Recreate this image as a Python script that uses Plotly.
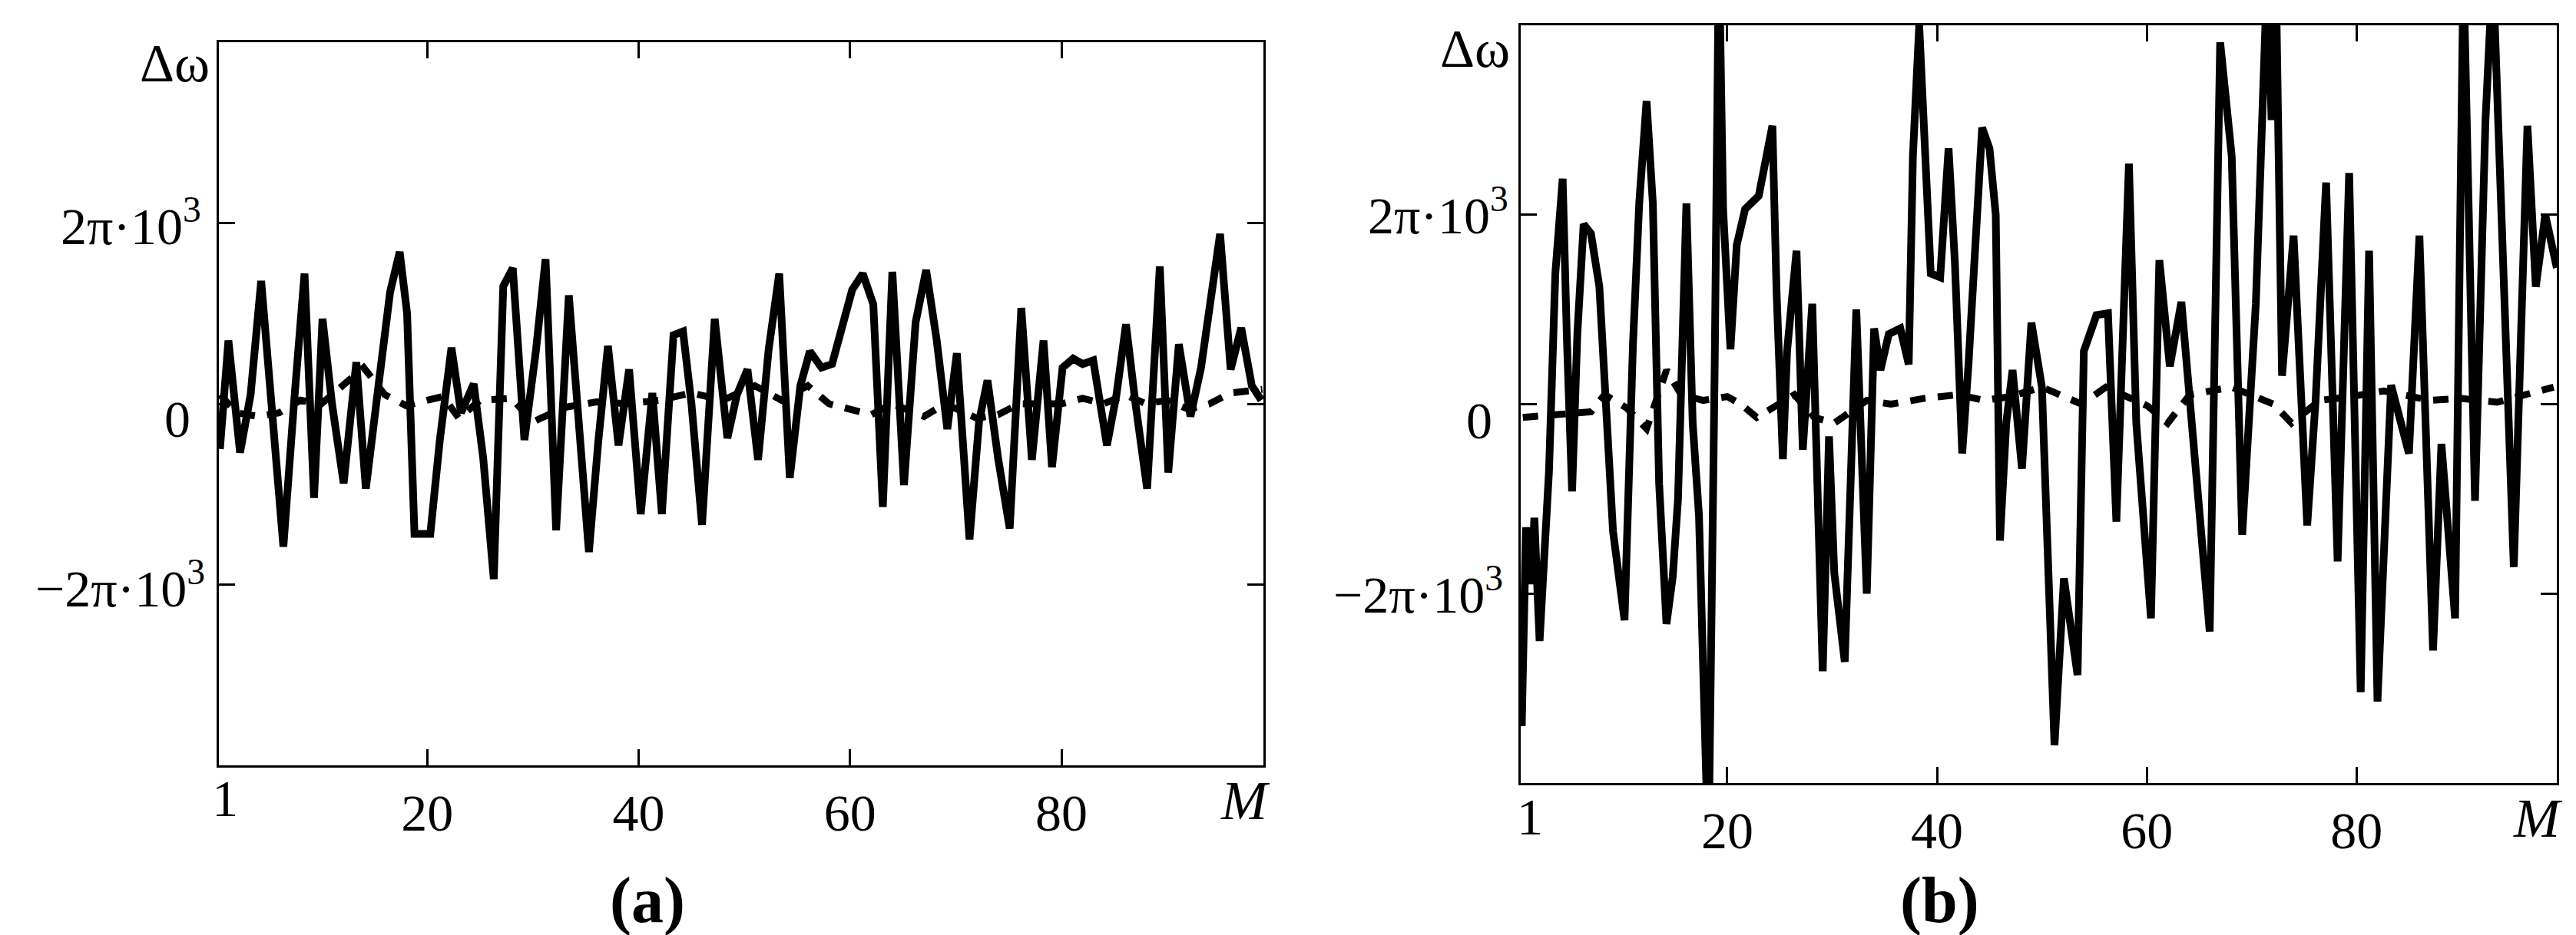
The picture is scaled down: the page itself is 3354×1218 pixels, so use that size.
import plotly.graph_objects as go

# frequency deviation, in units of 2π·10^3 rad/s, against sample number M
# (a) solid and dashed curves
m_a = [0.4, 1.2, 2.3, 3.3, 4.3, 5.2, 6.4, 7.4, 8.4, 9.3, 10.1, 11.0, 12.1, 13.3, 14.2,
       15.5, 16.5, 17.4, 18.1, 18.8, 20.3, 21.2, 22.3, 23.2, 24.4, 25.3, 26.3, 27.2,
       28.1, 29.2, 30.3, 31.2, 32.2, 33.4, 34.2, 35.3, 36.2, 37.1, 38.1, 39.1, 40.2,
       41.3, 42.2, 43.3, 44.2, 45.0, 46.0, 47.2, 48.4, 49.3, 50.3, 51.3, 52.3, 53.3,
       54.3, 55.3, 56.2, 57.3, 58.3, 59.3, 60.2, 61.2, 62.2, 63.1, 64.0, 65.1, 66.2,
       67.2, 68.2, 69.2, 70.1, 71.3, 72.2, 73.0, 74.0, 75.1, 76.2, 77.2, 78.3, 79.1,
       80.1, 81.1, 82.0, 83.0, 84.3, 85.2, 86.1, 87.0, 88.1, 89.3, 90.1, 91.1, 92.2,
       93.2, 94.0, 95.0, 96.0, 97.0, 98.0, 98.9]
dw_a = [-0.25, 0.35, -0.27, 0.05, 0.68, 0.0, -0.79, 0.0, 0.72, -0.52, 0.47, 0.0, -0.44,
        0.23, -0.47, 0.15, 0.62, 0.84, 0.5, -0.72, -0.72, -0.2, 0.31, -0.05, 0.11, -0.3,
        -0.97, 0.65, 0.75, -0.2, 0.3, 0.8, -0.7, 0.6, 0.0, -0.82, -0.2, 0.32, -0.23, 0.19,
        -0.61, 0.06, -0.61, 0.38, 0.4, 0.0, -0.67, 0.47, -0.19, 0.05, 0.19, -0.31, 0.3,
        0.72, -0.41, 0.1, 0.29, 0.2, 0.22, 0.45, 0.63, 0.72, 0.55, -0.57, 0.73, -0.45,
        0.45, 0.74, 0.35, -0.14, 0.28, -0.75, -0.1, 0.13, -0.3, -0.69, 0.53, -0.31, 0.35,
        -0.35, 0.2, 0.25, 0.22, 0.24, -0.23, 0.05, 0.44, 0.0, -0.47, 0.76, -0.38, 0.33,
        -0.07, 0.2, 0.5, 0.94, 0.19, 0.42, 0.1, 0.02]
m_a_dash = [0.4, 2, 4, 6, 8, 10, 12, 14, 16, 18, 20, 21.5, 23, 25, 28, 30, 33, 36, 39,
            42, 45, 48, 51, 53.5, 56, 58, 60, 62, 64, 67, 69, 72, 74, 76, 78, 80, 82,
            84, 86, 88, 90, 92, 94, 96, 99]
dw_a_dash = [0.05, -0.05, -0.07, -0.05, 0.02, 0.0, 0.1, 0.2, 0.05, -0.01, 0.02, 0.04,
             -0.08, 0.02, 0.03, -0.1, -0.02, 0.01, 0.0, 0.02, 0.06, 0.02, 0.1, 0.02, 0.1,
             0.0, -0.03, -0.06, 0.0, -0.07, 0.0, -0.08, -0.06, 0.0, 0.0, 0.0, 0.03, 0.0,
             0.05, 0.0, 0.02, -0.03, 0.0, 0.06, 0.08]

# (b) solid and dashed curves
m_b = [0.4, 0.8, 1.3, 1.6, 2.1, 3.0, 3.6, 4.3, 4.7, 5.2, 5.7, 6.3, 7.0, 7.8, 9.1, 10.2,
       11.0, 11.6, 12.3, 12.9, 13.5, 14.2, 14.8, 15.3, 16.1, 16.7, 17.3, 18.2, 18.8,
       19.2, 19.6, 20.3, 20.9, 21.7, 23.0, 24.3, 24.7, 25.3, 25.7, 26.6, 27.2, 28.1,
       29.1, 29.7, 30.2, 31.2, 32.3, 33.3, 34.0, 34.6, 35.4, 36.5, 37.3, 37.7, 38.3,
       38.8, 39.4, 40.3, 41.1, 41.7, 42.4, 43.0, 44.3, 45.0, 45.6, 46.0, 46.6, 47.2,
       48.1, 49.0, 50.0, 51.2, 52.1, 53.4, 54.0, 55.2, 56.3, 57.1, 58.3, 59.0, 60.4,
       61.2, 62.2, 63.3, 64.3, 66.0, 67.0, 68.1, 69.1, 70.4, 71.5, 71.9, 72.3, 72.9,
       74.0, 75.3, 76.1, 77.1, 78.2, 79.3, 80.4, 81.2, 82.0, 83.3, 85.0, 86.0, 87.3,
       88.1, 89.4, 90.2, 91.3, 92.3, 93.0, 93.8, 95.0, 96.3, 97.1, 98.0, 99.1]
dw_b = [-1.7, -0.65, -0.95, -0.6, -1.25, -0.35, 0.69, 1.19, 0.35, -0.46, 0.37, 0.95,
        0.9, 0.62, -0.67, -1.14, 0.31, 1.06, 1.6, 1.06, -0.42, -1.16, -0.91, -0.5, 1.06,
        -0.1, -0.59, -2.4, 0.21, 2.4, 1.03, 0.29, 0.84, 1.03, 1.1, 1.47, 0.59, -0.29,
        0.28, 0.81, -0.24, 0.53, -1.41, -0.17, -0.89, -1.36, 0.5, -1.0, 0.4, 0.18, 0.37,
        0.4, 0.21, 1.31, 2.0, 1.31, 0.69, 0.67, 1.35, 0.75, -0.26, 0.21, 1.46, 1.35, 1.0,
        -0.72, -0.1, 0.18, -0.34, 0.43, 0.09, -1.8, -0.92, -1.43, 0.28, 0.47, 0.48,
        -0.62, 1.27, -0.1, -1.13, 0.76, 0.2, 0.54, -0.1, -1.2, 1.91, 1.31, -0.69, 0.53,
        2.3, 1.5, 2.3, 0.15, 0.89, -0.64, 0.02, 1.17, -0.83, 1.22, -1.52, 0.81, -1.57,
        0.1, -0.26, 0.89, -1.3, -0.21, -1.13, 2.3, -0.51, 1.5, 2.3, 0.97, -0.86, 1.47,
        0.62, 1.0, 0.72]
m_b_dash = [0.5, 2.4, 4.9, 7, 8.3, 10.4, 12.3, 14.2, 15.6, 17.7, 20, 21.3, 22.8, 26.4,
            28.3, 30.2, 33.3, 35.6, 38.7, 42, 44.5, 47, 50, 53.8, 56.1, 60.1, 62, 64.1,
            68.1, 72.1, 73.8, 76.5, 79.5, 82.6, 87, 90, 93.4, 96.3, 98.8]
dw_b_dash = [-0.07, -0.06, -0.05, -0.04, 0.05, -0.02, -0.13, 0.18, 0.05, 0.02, 0.04,
             0.0, -0.07, 0.05, -0.07, -0.1, 0.02, 0.0, 0.03, 0.05, 0.02, 0.04, 0.09, 0.0,
             0.09, -0.01, -0.1, 0.05, 0.09, 0.0, -0.1, 0.02, 0.04, 0.07, 0.02, 0.03,
             0.01, 0.05, 0.09]

x_ticks = [20, 40, 60, 80]
y_ticks = [-1, 0, 1]
y_labels = ["\u22122\u03c0\u00b710<sup>3</sup>", "0", "2\u03c0\u00b710<sup>3</sup>"]

W, H = 3354, 1218
FONT = "Liberation Serif"


def px(x, y):
    # pixel position on the page -> paper coordinates
    return x / W, 1 - y / H


fig = go.Figure()

line_solid = dict(color="black", width=10)
line_dash = dict(color="black", width=9, dash="20px,16px")

fig.add_trace(go.Scatter(x=m_a, y=dw_a, mode="lines", line=line_solid,
                         xaxis="x", yaxis="y", showlegend=False))
fig.add_trace(go.Scatter(x=m_a_dash, y=dw_a_dash, mode="lines", line=line_dash,
                         xaxis="x", yaxis="y", showlegend=False))
fig.add_trace(go.Scatter(x=m_b, y=dw_b, mode="lines", line=line_solid,
                         xaxis="x2", yaxis="y2", showlegend=False))
fig.add_trace(go.Scatter(x=m_b_dash, y=dw_b_dash, mode="lines", line=line_dash,
                         xaxis="x2", yaxis="y2", showlegend=False))

axis_style = dict(
    showline=True, linecolor="black", linewidth=3, mirror="ticks",
    ticks="inside", ticklen=21, tickwidth=3, tickcolor="black",
    showgrid=False, zeroline=False,
    tickfont=dict(family=FONT, size=68, color="black"),
)

fig.update_layout(
    width=W, height=H,
    margin=dict(l=0, r=0, t=0, b=0),
    plot_bgcolor="white", paper_bgcolor="white",
    xaxis=dict(domain=[277 / W, 1637 / W], range=[0.3, 99.1], tickvals=x_ticks,
               anchor="y", **axis_style),
    yaxis=dict(domain=[1 - 989 / H, 1 - 47 / H], range=[-2, 2], tickvals=y_ticks,
               showticklabels=False, anchor="x", **axis_style),
    xaxis2=dict(domain=[1972 / W, 3321 / W], range=[0.3, 99.1], tickvals=x_ticks,
                anchor="y2", **axis_style),
    yaxis2=dict(domain=[1 - 1012 / H, 1 - 25 / H], range=[-2, 2], tickvals=y_ticks,
                showticklabels=False, anchor="x2", **axis_style),
)

# text placed where it sits in the original figure (pixel positions)
labels = [
    ("\u0394\u03c9", 267, 75, "right", 70, "normal", "normal"),
    (y_labels[2], 256, 282, "right", 68, "normal", "normal"),
    (y_labels[1], 242, 538, "right", 68, "normal", "normal"),
    (y_labels[0], 261, 754, "right", 68, "normal", "normal"),
    ("1", 285, 1032, "center", 68, "normal", "normal"),
    ("M", 1613, 1035, "center", 72, "italic", "normal"),
    ("(a)", 835, 1165, "center", 84, "normal", "bold"),
    ("\u0394\u03c9", 1960, 56, "right", 70, "normal", "normal"),
    (y_labels[2], 1958, 268, "right", 68, "normal", "normal"),
    (y_labels[1], 1937, 540, "right", 68, "normal", "normal"),
    (y_labels[0], 1951, 762, "right", 68, "normal", "normal"),
    ("1", 1984, 1056, "center", 68, "normal", "normal"),
    ("M", 3296, 1058, "center", 72, "italic", "normal"),
    ("(b)", 2517, 1165, "center", 84, "normal", "bold"),
]
for text, x, y, anchor, size, style, weight in labels:
    ax, ay = px(x, y)
    fig.add_annotation(x=ax, y=ay, xref="paper", yref="paper", text=text,
                       showarrow=False, xanchor=anchor, yanchor="middle",
                       font=dict(family=FONT, size=size, color="black",
                                 style=style, weight=weight))

fig.write_html("out.html")
